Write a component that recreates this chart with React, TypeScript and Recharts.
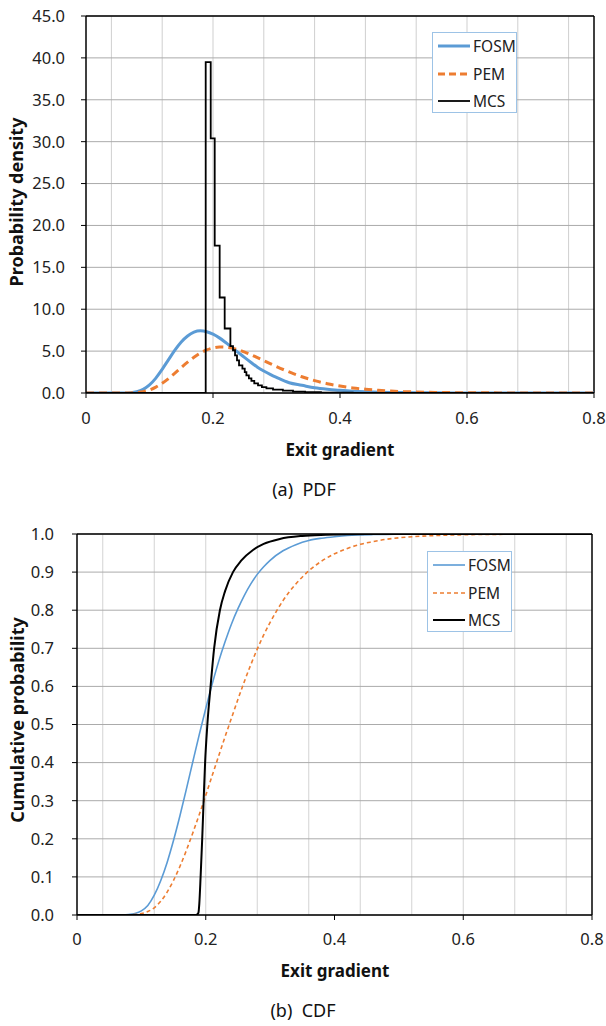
import React from 'react';
import { LineChart, Line, XAxis, YAxis, CartesianGrid, ReferenceLine } from 'recharts';

// ---- data ----
const gradX = [0, 0.04, 0.06, 0.07, 0.08, 0.09, 0.10, 0.11, 0.12, 0.13, 0.14, 0.15, 0.16, 0.17, 0.18, 0.19, 0.20, 0.21, 0.22, 0.23, 0.24, 0.25, 0.26, 0.27, 0.28, 0.29, 0.30, 0.32, 0.34, 0.36, 0.38, 0.40, 0.42, 0.44, 0.46, 0.48, 0.50, 0.55, 0.60, 0.65, 0.70, 0.80];

const fosmPdfY = [0, 0, 0.01, 0.04, 0.15, 0.44, 0.97, 1.78, 2.83, 3.98, 5.12, 6.09, 6.81, 7.26, 7.42, 7.32, 7.02, 6.58, 6.02, 5.42, 4.82, 4.22, 3.64, 3.08, 2.62, 2.22, 1.86, 1.22, 0.92, 0.62, 0.44, 0.32, 0.22, 0.15, 0.10, 0.07, 0.05, 0.02, 0.01, 0, 0, 0];
const pemPdfY = [0, 0, 0, 0.01, 0.06, 0.16, 0.36, 0.70, 1.16, 1.72, 2.36, 3.03, 3.68, 4.27, 4.77, 5.14, 5.38, 5.49, 5.47, 5.36, 5.16, 4.89, 4.57, 4.23, 3.87, 3.51, 3.16, 2.51, 1.94, 1.48, 1.11, 0.83, 0.61, 0.45, 0.32, 0.23, 0.17, 0.07, 0.03, 0.014, 0.006, 0.001];

const mcsPdfX = [0, 0.1885, 0.1964, 0.2027, 0.2105, 0.2184, 0.2274, 0.2315, 0.2347, 0.2378, 0.241, 0.2463, 0.25, 0.2526, 0.2565, 0.2605, 0.265, 0.2709, 0.277, 0.2841, 0.2945, 0.31, 0.326, 0.345, 0.37, 0.42, 0.5, 0.8];
const mcsPdfY = [0, 39.5, 30.4, 17.6, 11.4, 7.7, 5.6, 5.1, 4.5, 3.9, 3.3, 2.9, 2.5, 2.1, 1.75, 1.45, 1.15, 0.9, 0.7, 0.55, 0.4, 0.28, 0.17, 0.1, 0.05, 0.02, 0, 0];

const fosmCdfY = [0, 0, 0, 0.0002, 0.0011, 0.004, 0.011, 0.025, 0.052, 0.09, 0.138, 0.196, 0.261, 0.331, 0.403, 0.474, 0.542, 0.606, 0.665, 0.717, 0.764, 0.804, 0.839, 0.869, 0.894, 0.914, 0.931, 0.956, 0.972, 0.983, 0.989, 0.993, 0.996, 0.9975, 0.9985, 0.999, 0.9995, 0.9999, 1, 1, 1, 1];
const pemCdfY = [0, 0, 0, 0.0001, 0.0005, 0.0015, 0.004, 0.009, 0.019, 0.036, 0.06, 0.091, 0.128, 0.17, 0.216, 0.264, 0.314, 0.366, 0.417, 0.468, 0.517, 0.566, 0.613, 0.657, 0.698, 0.735, 0.768, 0.825, 0.869, 0.903, 0.929, 0.948, 0.962, 0.973, 0.98, 0.986, 0.99, 0.9955, 0.998, 0.999, 0.9996, 1];

const mcsCdfX = [0, 0.185, 0.1885, 0.19, 0.192, 0.1945, 0.1967, 0.199, 0.2025, 0.2075, 0.213, 0.222, 0.23, 0.2423, 0.255, 0.2734, 0.29, 0.315, 0.35, 0.387, 0.45, 0.8];
const mcsCdfY = [0, 0, 0.005, 0.03, 0.1, 0.2, 0.3, 0.4, 0.5, 0.6, 0.7, 0.8, 0.85, 0.9, 0.93, 0.958, 0.974, 0.987, 0.995, 0.998, 1, 1];

const xTicks = [0, 0.2, 0.4, 0.6, 0.8];
const vGrid = [0.04, 0.08, 0.12, 0.16, 0.2, 0.24, 0.28, 0.32, 0.36, 0.4, 0.44, 0.48, 0.52, 0.56, 0.6, 0.64, 0.68, 0.72, 0.76];
const pdfTicks = [0, 5, 10, 15, 20, 25, 30, 35, 40, 45];
const cdfTicks = [0, 0.1, 0.2, 0.3, 0.4, 0.5, 0.6, 0.7, 0.8, 0.9, 1.0];
const seriesNames = ['FOSM', 'PEM', 'MCS'];

const zip = (xs: number[], ys: number[]) => xs.map((x, i) => ({ x, y: ys[i] }));

const FONT = '"Noto Sans", "Open Sans", sans-serif';
const BLUE = '#5B9BD5';
const ORANGE = '#ED7D31';

const xFmt = (v: number) => (v === 0 ? '0' : String(v));
const yFmt = (v: number) => v.toFixed(1);

function Legend({ left, top, lineW, dash, rowGap, widths }: any) {
  const colors = [BLUE, ORANGE, '#000'];
  return (
    <div style={{ position: 'absolute', left, top, width: 85, height: 81, border: '1px solid #9DC3E6', background: '#fff', boxSizing: 'border-box' }}>
      {seriesNames.map((n, i) => (
        <div key={n} style={{ position: 'absolute', left: 4, top: 13 + i * rowGap - 10, height: 20, display: 'flex', alignItems: 'center' }}>
          <svg width={34} height={20} style={{ display: 'block' }}>
            <line x1={1} x2={33} y1={10} y2={10} stroke={colors[i]} strokeWidth={widths[i]} strokeDasharray={i === 1 ? dash : undefined} />
          </svg>
          <span style={{ fontFamily: FONT, fontSize: 15.5, color: '#222', marginLeft: lineW, lineHeight: '20px' }}>{n}</span>
        </div>
      ))}
    </div>
  );
}

function Txt({ x, y, children, size = 17, bold = false, rotate = false }: any) {
  return (
    <div style={{ position: 'absolute', left: x, top: y, transform: `translate(-50%, -50%)${rotate ? ' rotate(-90deg)' : ''}`, fontFamily: FONT, fontSize: size, fontWeight: bold ? 700 : 400, color: '#111', whiteSpace: 'nowrap', lineHeight: 1 }}>
      {children}
    </div>
  );
}

export default function App() {
  const tickStyle = { fontFamily: FONT, fontSize: 16.5, fill: '#222' };
  return (
    <div style={{ position: 'absolute', left: 0, top: 0, width: 606, height: 1026, background: '#fff', overflow: 'hidden' }}>
      <div style={{ position: 'absolute', left: 0, top: 0 }}>
        <LineChart width={606} height={440} margin={{ top: 16, right: 12, left: 0, bottom: 0 }}>
          <CartesianGrid horizontal={false} verticalValues={vGrid} stroke="#CFCFCF" strokeWidth={1} />
          <CartesianGrid vertical={false} stroke="#ABABAB" strokeWidth={1} />
          <XAxis type="number" dataKey="x" domain={[0, 0.8]} ticks={xTicks} tickFormatter={xFmt} height={47}
            axisLine={{ stroke: '#000', strokeWidth: 1.5 }} tickLine={{ stroke: '#000' }} tickSize={5} tickMargin={14} tick={tickStyle} allowDataOverflow />
          <YAxis type="number" domain={[0, 45]} ticks={pdfTicks} tickFormatter={yFmt} width={86}
            axisLine={{ stroke: '#000', strokeWidth: 1.5 }} tickLine={{ stroke: '#000' }} tickSize={5} tickMargin={16} tick={tickStyle} allowDataOverflow />
          <ReferenceLine y={45} stroke="#000" strokeWidth={1.5} />
          <ReferenceLine x={0.8} stroke="#000" strokeWidth={1.5} />
          <Line data={zip(gradX, fosmPdfY)} dataKey="y" type="monotone" stroke={BLUE} strokeWidth={3} dot={false} isAnimationActive={false} />
          <Line data={zip(gradX, pemPdfY)} dataKey="y" type="monotone" stroke={ORANGE} strokeWidth={3} strokeDasharray="8 5" dot={false} isAnimationActive={false} />
          <Line data={zip(mcsPdfX, mcsPdfY)} dataKey="y" type="stepAfter" stroke="#000" strokeWidth={1.8} dot={false} isAnimationActive={false} />
        </LineChart>
      </div>
      <Legend left={432} top={32} lineW={2} dash="7 4" rowGap={27.5} widths={[3, 3, 1.8]} />
      <Txt x={16} y={202} size={18} bold rotate>Probability density</Txt>
      <Txt x={340} y={449} bold>Exit gradient</Txt>
      <Txt x={304} y={489} size={18}>(a)&nbsp; PDF</Txt>

      <div style={{ position: 'absolute', left: 0, top: 518 }}>
        <LineChart width={606} height={440} margin={{ top: 16, right: 14, left: 0, bottom: 0 }}>
          <CartesianGrid horizontal={false} verticalValues={vGrid} stroke="#D3D3D3" strokeWidth={1} />
          <CartesianGrid vertical={false} stroke="#ABABAB" strokeWidth={1} />
          <XAxis type="number" dataKey="x" domain={[0, 0.8]} ticks={xTicks} tickFormatter={xFmt} height={43}
            axisLine={{ stroke: '#000', strokeWidth: 1.5 }} tickLine={{ stroke: '#000' }} tickSize={5} tickMargin={13} tick={tickStyle} allowDataOverflow />
          <YAxis type="number" domain={[0, 1]} ticks={cdfTicks} tickFormatter={yFmt} width={77}
            axisLine={{ stroke: '#000', strokeWidth: 1.5 }} tickLine={{ stroke: '#000' }} tickSize={5} tickMargin={18} tick={tickStyle} allowDataOverflow />
          <ReferenceLine y={1} stroke="#000" strokeWidth={1.5} />
          <ReferenceLine x={0.8} stroke="#000" strokeWidth={1.5} />
          <Line data={zip(gradX, fosmCdfY)} dataKey="y" type="monotone" stroke={BLUE} strokeWidth={1.6} dot={false} isAnimationActive={false} />
          <Line data={zip(gradX, pemCdfY)} dataKey="y" type="monotone" stroke={ORANGE} strokeWidth={1.6} strokeDasharray="4 3" dot={false} isAnimationActive={false} />
          <Line data={zip(mcsCdfX, mcsCdfY)} dataKey="y" type="monotone" stroke="#000" strokeWidth={2} dot={false} isAnimationActive={false} />
        </LineChart>
      </div>
      <Legend left={427} top={551} lineW={2} dash="4 3" rowGap={27.5} widths={[1.6, 1.6, 2]} />
      <Txt x={17} y={720} size={18} bold rotate>Cumulative probability</Txt>
      <Txt x={335} y={970} bold>Exit gradient</Txt>
      <Txt x={303} y={1010} size={18}>(b)&nbsp; CDF</Txt>
    </div>
  );
}
